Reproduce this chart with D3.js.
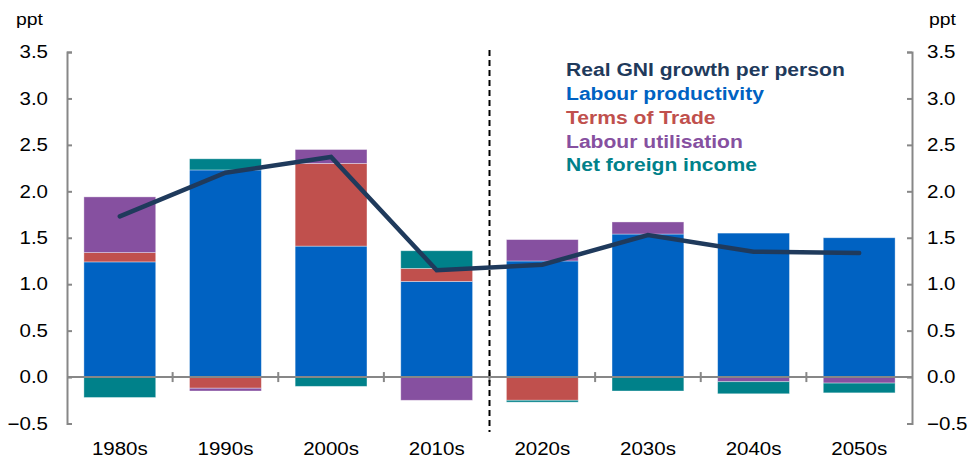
<!DOCTYPE html>
<html>
<head>
<meta charset="utf-8">
<script src="https://cdn.jsdelivr.net/npm/d3@7"></script>
<style>
  body { margin: 0; background: #fff; }
  text { font-family: "Liberation Sans", Arial, sans-serif; }
</style>
</head>
<body>
<div id="chart"></div>
<script>
var decades = ["1980s", "1990s", "2000s", "2010s", "2020s", "2030s", "2040s", "2050s"];
var labourProductivity = [1.24, 2.23, 1.41, 1.03, 1.25, 1.54, 1.55, 1.50];
var termsOfTrade = [0.10, -0.12, 0.89, 0.14, -0.25, 0, 0, 0];
var labourUtilisation = [0.60, -0.03, 0.15, -0.25, 0.23, 0.13, -0.05, -0.065];
var netForeignIncome = [-0.22, 0.12, -0.10, 0.19, -0.02, -0.15, -0.13, -0.105];
var gniGrowth = [1.73, 2.20, 2.37, 1.15, 1.21, 1.53, 1.35, 1.335];
var yTicks = [-0.5, 0, 0.5, 1, 1.5, 2, 2.5, 3, 3.5];

var seriesKeys = ["lp", "tot", "lu", "nfi"];
var seriesColors = { lp: "#0062c2", tot: "#c0504d", lu: "#8650a0", nfi: "#00818a" };
var lineColor = "#1f3a5c";

var chart = {
  width: 969,
  height: 459,
  top: 52,
  bottom: 423.5,
  left: 67,
  right: 912,
};

var rows = decades.map((d, i) => ({
  decade: d,
  lp: labourProductivity[i],
  tot: termsOfTrade[i],
  lu: labourUtilisation[i],
  nfi: netForeignIncome[i],
}));

const svg = d3
  .select("#chart")
  .append("svg")
  .attr("width", chart.width)
  .attr("height", chart.height);

var x = d3
  .scaleBand()
  .domain(decades)
  .range([chart.left, chart.right])
  .paddingInner(0.32)
  .paddingOuter(0.16);

var band = d3.scaleBand().domain(decades).range([chart.left, chart.right]);

var y = d3.scaleLinear().domain([-0.5, 3.5]).range([chart.bottom, chart.top]);

/* text in the original is a bit wider than Liberation Sans */
function place(sel, fx, fy, sx) {
  sel.attr("transform", (d, i) => `translate(${fx(d, i)},${fy(d, i)}) scale(${sx},1)`);
}

/* stacked bars */
var stack = d3.stack().keys(seriesKeys).offset(d3.stackOffsetDiverging);
var layers = stack(rows);

svg
  .append("g")
  .selectAll("g")
  .data(layers)
  .join("g")
  .attr("fill", (d) => seriesColors[d.key])
  .selectAll("rect")
  .data((d) => d)
  .join("rect")
  .attr("x", (d) => x(d.data.decade))
  .attr("width", x.bandwidth())
  .attr("y", (d) => y(Math.max(d[0], d[1])))
  .attr("height", (d) => Math.abs(y(d[0]) - y(d[1])))
  .attr("stroke", "rgba(255,255,255,0.45)")
  .attr("stroke-width", 0.8);

/* axes */
var axisColor = "#878787";

var leftAxis = (g) =>
  g
    .attr("transform", `translate(${chart.left}, 0)`)
    .call(d3.axisRight(y).tickValues(yTicks).tickSize(5).tickFormat(""))
    .call((g) => g.select(".domain").attr("stroke", axisColor).attr("stroke-width", 2))
    .call((g) => g.selectAll(".tick line").attr("stroke", axisColor).attr("stroke-width", 2));

var rightAxis = (g) =>
  g
    .attr("transform", `translate(${chart.right}, 0)`)
    .call(d3.axisLeft(y).tickValues(yTicks).tickSize(5).tickFormat(""))
    .call((g) => g.select(".domain").attr("stroke", axisColor).attr("stroke-width", 2))
    .call((g) => g.selectAll(".tick line").attr("stroke", axisColor).attr("stroke-width", 2));

svg.append("g").call(leftAxis);
svg.append("g").call(rightAxis);

svg
  .append("g")
  .selectAll("text")
  .data(yTicks)
  .join("text")
  .call(place, () => 48, (d) => y(d), 1.14)
  .attr("dy", "0.35em")
  .attr("text-anchor", "end")
  .attr("font-size", 18)
  .attr("fill", "#000")
  .text((d) => d3.format(".1f")(d));

svg
  .append("g")
  .selectAll("text")
  .data(yTicks)
  .join("text")
  .call(place, () => 927, (d) => y(d), 1.14)
  .attr("dy", "0.35em")
  .attr("text-anchor", "start")
  .attr("font-size", 18)
  .attr("fill", "#000")
  .text((d) => d3.format(".1f")(d));

svg.append("text").call(place, () => 16, () => 25, 1.14).attr("font-size", 17).text("ppt");
svg.append("text").call(place, () => 929, () => 25, 1.14).attr("font-size", 17).text("ppt");

/* zero line with category separators */
svg
  .append("line")
  .attr("x1", chart.left)
  .attr("x2", chart.right)
  .attr("y1", y(0))
  .attr("y2", y(0))
  .attr("stroke", axisColor)
  .attr("stroke-width", 2);

svg
  .append("g")
  .selectAll("line")
  .data(decades.slice(1))
  .join("line")
  .attr("x1", (d) => band(d))
  .attr("x2", (d) => band(d))
  .attr("y1", y(0) - 5)
  .attr("y2", y(0) + 5)
  .attr("stroke", axisColor)
  .attr("stroke-width", 2);

svg
  .append("g")
  .selectAll("text")
  .data(decades)
  .join("text")
  .call(place, (d) => band(d) + band.bandwidth() / 2, () => 448, 1.08)
  .attr("dy", "0.35em")
  .attr("text-anchor", "middle")
  .attr("font-size", 19)
  .attr("fill", "#000")
  .text((d) => d);

/* forecast divider */
svg
  .append("line")
  .attr("x1", band("2020s"))
  .attr("x2", band("2020s"))
  .attr("y1", 50)
  .attr("y2", 432)
  .attr("stroke", "#000")
  .attr("stroke-width", 2)
  .attr("stroke-dasharray", "6,4");

/* GNI line */
var line = d3
  .line()
  .x((d, i) => band(decades[i]) + band.bandwidth() / 2)
  .y((d) => y(d));

svg
  .append("path")
  .datum(gniGrowth)
  .attr("fill", "none")
  .attr("stroke", lineColor)
  .attr("stroke-width", 4.5)
  .attr("stroke-linejoin", "miter")
  .attr("stroke-linecap", "round")
  .attr("d", line);

/* legend */
var legendItems = [
  ["Real GNI growth per person", lineColor],
  ["Labour productivity", seriesColors.lp],
  ["Terms of Trade", seriesColors.tot],
  ["Labour utilisation", seriesColors.lu],
  ["Net foreign income", seriesColors.nfi],
];

svg
  .append("g")
  .selectAll("text")
  .data(legendItems)
  .join("text")
  .call(place, () => 566, (d, i) => 70 + i * 23.75, 1.14)
  .attr("dy", "0.35em")
  .attr("font-size", 18.5)
  .attr("font-weight", "bold")
  .attr("fill", (d) => d[1])
  .text((d) => d[0]);
</script>
</body>
</html>
